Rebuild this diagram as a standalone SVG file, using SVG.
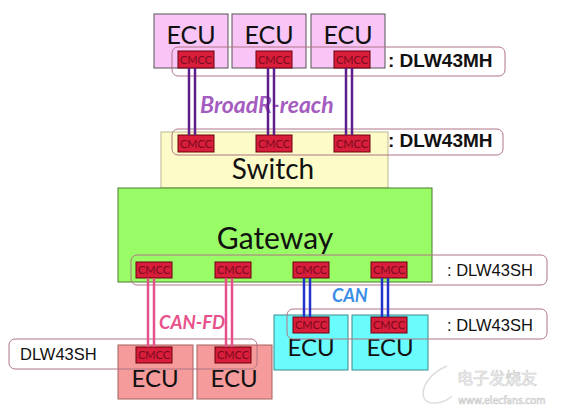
<svg xmlns="http://www.w3.org/2000/svg" width="563" height="415" viewBox="0 0 563 415">
<style>
.bg{fill:#ffffff}
.ecu-top{fill:#f9c5f7;stroke:#555555;stroke-width:1}
.ecu-cyan{fill:#6afcfc;stroke:#3a8a8a;stroke-width:1}
.ecu-red{fill:#f59b9b;stroke:#a86060;stroke-width:1}
.switch{fill:#fdfcc8;stroke:#b8b890;stroke-width:1}
.gateway{fill:#99fb66;stroke:#4a7a30;stroke-width:1}
.cmcc{fill:#d81e3a;stroke:#6a0010;stroke-width:1}
.cmcc-t{font-family:Lato,"Liberation Sans",sans-serif;font-size:11px;fill:#7a0a20;text-anchor:middle}
.grp{fill:none;stroke:#b07585;stroke-width:1}
.big{font-family:Lato,"Liberation Sans",sans-serif;fill:#111111;text-anchor:middle}
.mh{font-family:"Liberation Sans",Arial,sans-serif;font-size:19px;font-weight:bold;fill:#111111}
.sh{font-family:"Liberation Sans",Arial,sans-serif;font-size:16.5px;fill:#111111}
.lbl{font-family:Lato,"Liberation Sans",sans-serif;font-weight:bold;font-style:italic}
.purple{stroke:#5c1f8c;stroke-width:2.5}
.pink{stroke:#e5508a;stroke-width:2.5}
.blue{stroke:#2233cc;stroke-width:2.5}
.wm{font-family:"Noto Sans CJK SC","Liberation Sans",sans-serif;fill:#ffffff;stroke:#d0d0d0;stroke-width:0.7}
</style>
<rect class="bg" x="0" y="0" width="563" height="415"/>

<g id="switch">
<rect class="switch" x="161" y="132" width="227" height="56"/>
<text class="big" x="273" y="179" font-size="28">Switch</text>
</g>

<g id="gateway">
<rect class="gateway" x="118" y="188" width="314" height="94"/>
<text class="big" x="275" y="249" font-size="30">Gateway</text>
</g>

<g id="ecu-top-1">
<rect class="ecu-top" x="154" y="14" width="74" height="54"/>
<text class="big" x="191" y="44" font-size="25">ECU</text>
</g>
<g id="ecu-top-2">
<rect class="ecu-top" x="232" y="14" width="74" height="54"/>
<text class="big" x="269" y="44" font-size="25">ECU</text>
</g>
<g id="ecu-top-3">
<rect class="ecu-top" x="311" y="14" width="74" height="54"/>
<text class="big" x="348" y="44" font-size="25">ECU</text>
</g>

<g id="ecu-cyan-1">
<rect class="ecu-cyan" x="274" y="315" width="74" height="55"/>
<text class="big" x="311" y="356" font-size="24">ECU</text>
</g>
<g id="ecu-cyan-2">
<rect class="ecu-cyan" x="352" y="315" width="76" height="55"/>
<text class="big" x="390" y="356" font-size="24">ECU</text>
</g>

<g id="ecu-red-1">
<rect class="ecu-red" x="118" y="345" width="75" height="54"/>
<text class="big" x="155" y="387" font-size="24">ECU</text>
</g>
<g id="ecu-red-2">
<rect class="ecu-red" x="197" y="345" width="75" height="54"/>
<text class="big" x="234" y="387" font-size="24">ECU</text>
</g>

<g id="cmcc-chips">
<rect class="cmcc" x="178" y="51" width="36" height="17"/><text class="cmcc-t" x="196" y="63.5">CMCC</text>
<rect class="cmcc" x="256" y="51" width="36" height="17"/><text class="cmcc-t" x="274" y="63.5">CMCC</text>
<rect class="cmcc" x="334" y="51" width="36" height="17"/><text class="cmcc-t" x="352" y="63.5">CMCC</text>
<rect class="cmcc" x="178" y="135" width="36" height="17"/><text class="cmcc-t" x="196" y="147.5">CMCC</text>
<rect class="cmcc" x="256" y="135" width="36" height="17"/><text class="cmcc-t" x="274" y="147.5">CMCC</text>
<rect class="cmcc" x="334" y="135" width="36" height="17"/><text class="cmcc-t" x="352" y="147.5">CMCC</text>
<rect class="cmcc" x="136" y="262" width="36" height="16"/><text class="cmcc-t" x="154" y="274">CMCC</text>
<rect class="cmcc" x="215" y="262" width="36" height="16"/><text class="cmcc-t" x="233" y="274">CMCC</text>
<rect class="cmcc" x="293" y="262" width="36" height="16"/><text class="cmcc-t" x="311" y="274">CMCC</text>
<rect class="cmcc" x="371" y="262" width="36" height="16"/><text class="cmcc-t" x="389" y="274">CMCC</text>
<rect class="cmcc" x="293" y="317" width="36" height="16"/><text class="cmcc-t" x="311" y="329">CMCC</text>
<rect class="cmcc" x="371" y="317" width="36" height="16"/><text class="cmcc-t" x="389" y="329">CMCC</text>
<rect class="cmcc" x="136" y="347" width="36" height="16"/><text class="cmcc-t" x="154" y="359">CMCC</text>
<rect class="cmcc" x="215" y="347" width="36" height="16"/><text class="cmcc-t" x="233" y="359">CMCC</text>
</g>

<g id="part-groups">
<rect class="grp" x="172" y="47" width="333" height="29" rx="6"/>
<text class="mh" x="388" y="67">: DLW43MH</text>
<rect class="grp" x="172" y="129" width="331" height="26" rx="6"/>
<text class="mh" x="388" y="147">: DLW43MH</text>
<rect class="grp" x="131" y="255" width="416" height="30" rx="6"/>
<text class="sh" x="447" y="276">: DLW43SH</text>
<rect class="grp" x="287" y="309" width="260" height="30" rx="6"/>
<text class="sh" x="447" y="331">: DLW43SH</text>
<rect class="grp" x="9" y="339" width="248" height="30" rx="6"/>
<text class="sh" x="20" y="360">DLW43SH</text>
</g>

<text class="lbl" x="200" y="113" font-size="23" fill="#a45cc0">BroadR-reach</text>
<text class="lbl" x="332" y="302" font-size="18" fill="#3a8ee6">CAN</text>
<text class="lbl" x="159" y="329" font-size="18.5" fill="#e8508a">CAN-FD</text>

<g id="connectors">
<line class="purple" x1="189" y1="68" x2="189" y2="135"/>
<line class="purple" x1="195" y1="68" x2="195" y2="135"/>
<line class="purple" x1="268" y1="68" x2="268" y2="135"/>
<line class="purple" x1="274" y1="68" x2="274" y2="135"/>
<line class="purple" x1="346" y1="68" x2="346" y2="135"/>
<line class="purple" x1="352" y1="68" x2="352" y2="135"/>
<line class="pink" x1="148" y1="278" x2="148" y2="347"/>
<line class="pink" x1="154" y1="278" x2="154" y2="347"/>
<line class="pink" x1="226" y1="278" x2="226" y2="347"/>
<line class="pink" x1="232" y1="278" x2="232" y2="347"/>
<line class="blue" x1="304" y1="278" x2="304" y2="317"/>
<line class="blue" x1="310" y1="278" x2="310" y2="317"/>
<line class="blue" x1="382" y1="278" x2="382" y2="317"/>
<line class="blue" x1="388" y1="278" x2="388" y2="317"/>
</g>

<g id="watermark">
<path d="M447 366 C432 372 420 386 424 398 C428 406 444 404 452 396" fill="none" stroke="#dddddd" stroke-width="1.5"/>
<text class="wm" x="457" y="384" font-size="16">电子发烧友</text>
<text class="wm" x="458" y="404" font-size="10">www.elecfans.com</text>
</g>
</svg>
